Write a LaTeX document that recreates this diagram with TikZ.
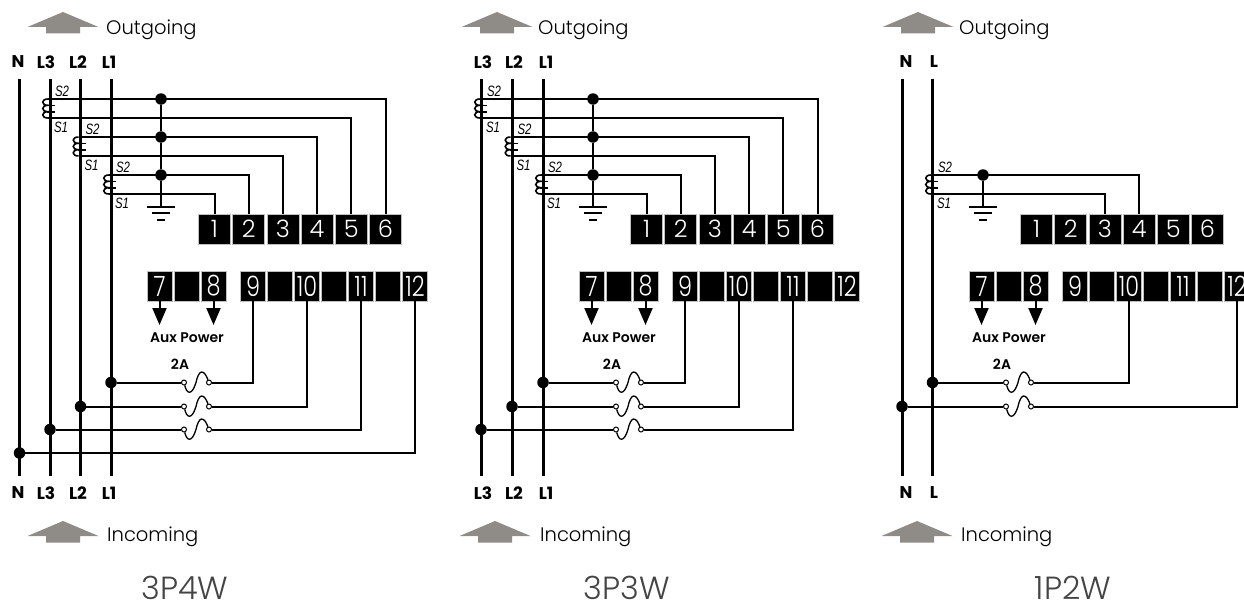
\documentclass[tikz,border=0pt]{standalone}
\usepackage{fontspec}
\setmainfont{Liberation Sans}
\newfontfamily\lightfont{Poppins Light}
\newfontfamily\boldfont{Poppins}[UprightFont=* Bold]
\newfontfamily\mediumfont{Poppins SemiBold}
\newfontfamily\narrowfont[FakeStretch=0.8]{Poppins Light}
\newfontfamily\secfont[FakeStretch=0.76]{Liberation Sans}
\usetikzlibrary{arrows.meta}
\definecolor{flowgray}{HTML}{8F8C88}
\definecolor{titlegray}{HTML}{444444}
\tikzstyle{terminal} = [rectangle, inner sep=0pt, fill=black, draw=black!25, line width=0.5pt, text=white, minimum height=30pt]
\tikzstyle{upper} = [terminal, minimum width=32pt, font=\lightfont\fontsize{24}{24}\selectfont]
\tikzstyle{lower} = [terminal, minimum width=25pt, font=\narrowfont\fontsize{28}{28}\selectfont]
\tikzstyle{bus} = [line width=3pt]
\tikzstyle{wire} = [line width=2pt]
\tikzstyle{dot} = [circle, fill=black, inner sep=0pt, minimum size=11.5pt]
\tikzstyle{fusepin} = [circle, fill=white, draw=black, line width=1pt, inner sep=0pt, minimum size=5pt]
\tikzstyle{linelabel} = [inner sep=0pt, font=\boldfont\fontsize{17}{17}\selectfont]
\tikzstyle{flowlabel} = [inner sep=0pt, anchor=west, font=\lightfont\fontsize{19.5}{20}\selectfont]
\tikzstyle{title} = [inner sep=0pt, text=titlegray, font=\lightfont\fontsize{32}{32}\selectfont]
\tikzstyle{sec} = [inner sep=0pt, font=\secfont\itshape\fontsize{15}{15}\selectfont]
\tikzstyle{small} = [inner sep=0pt, font=\mediumfont\fontsize{14}{14}\selectfont]
\tikzstyle{aux} = [line width=2pt,-{Triangle[width=14pt,length=17pt]}]
% gray arrow, apex at x,y
\newcommand{\flowarrow}[2]{\fill [flowgray] (#1,#2) -- (#1+35.5,#2+15) -- (#1+17,#2+15) -- (#1+17,#2+21.5) -- (#1-17,#2+21.5) -- (#1-17,#2+15) -- (#1-35.5,#2+15) -- cycle;}
% current transformer on a bus: name, x, y of upper wire
\newcommand{\ctcoil}[3]{
	\coordinate (#1top) at (#2,#3);
	\coordinate (#1bot) at (#2,#3+19);
	\draw [line width=1.6pt] (#1top) .. controls (#2-7,#3) and (#2-7,#3+6.3) .. (#2,#3+6.3) .. controls (#2-7,#3+6.3) and (#2-7,#3+12.7) .. (#2,#3+12.7) .. controls (#2-7,#3+12.7) and (#2-7,#3+19) .. (#1bot);
	\draw [line width=1.6pt] (#2-1,#3+6.3) -- (#2+7,#3+6.3) (#2-1,#3+12.7) -- (#2+7,#3+12.7);
	\node (#1s2) [sec] at (#2+14,#3-7.5) {S2};
	\node (#1s1) [sec] at (#2+13,#3+28.5) {S1};
}
% fuse: name, shift, y
\newcommand{\fuse}[3]{
	\begin{scope}[xshift=#2pt]
		\node (#1l) [fusepin] at (184,#3) {};
		\node (#1r) [fusepin] at (209,#3) {};
		\draw [line width=1.3pt] (#1l) .. controls (187,#3+12) and (192,#3+13) .. (196,#3) .. controls (199,#3-14) and (204,#3-13) .. (#1r);
	\end{scope}
}
\begin{document}
\begin{tikzpicture}[x=1pt, y=-1pt]
	\useasboundingbox (0,0) rectangle (1244,602);

	\foreach \p/\dx in {a/0,b/432,c/822}{
		\begin{scope}[xshift=\dx pt, node distance=34.2pt]
			\node (\p t1) [upper] at (214.5,229) {1};
			\node (\p t2) [upper, right of=\p t1] {2};
			\node (\p t3) [upper, right of=\p t2] {3};
			\node (\p t4) [upper, right of=\p t3] {4};
			\node (\p t5) [upper, right of=\p t4] {5};
			\node (\p t6) [upper, right of=\p t5] {6};
		\end{scope}
		\begin{scope}[xshift=\dx pt, node distance=27pt]
			\node (\p t7) [lower] at (159.5,286) {7};
			\node (\p b1) [lower, right of=\p t7] {};
			\node (\p t8) [lower, right of=\p b1] {8};
			\node (\p t9) [lower] at (253,286) {9};
			\node (\p b2) [lower, right of=\p t9] {};
			\node (\p t10) [lower, right of=\p b2] {10};
			\node (\p b3) [lower, right of=\p t10] {};
			\node (\p t11) [lower, right of=\p b3] {11};
			\node (\p b4) [lower, right of=\p t11] {};
			\node (\p t12) [lower, right of=\p b4] {12};
			\coordinate (\p a7) at (159.5,325);
			\coordinate (\p a8) at (213.5,325);
			\node (\p aux) [small] at (187,338) {Aux Power};
			\node (\p amp) [small] at (180,364) {2A};
			\coordinate (\p gnd) at (161,207);
			\draw [line width=1.7pt] (147,207) -- (175,207) (152,213) -- (170,213) (157,220) -- (165,220);
		\end{scope}
		\draw [aux] (\p t7) -- (\p a7);
		\draw [aux] (\p t8) -- (\p a8);
	}

	% 3P4W
	\foreach \t/\x in {N/18,L3/46,L2/78,L1/109}{
		\node (aup\t) [linelabel] at (\x,62) {\t};
		\node (adn\t) [linelabel] at (\x,493) {\t};
	}
	\foreach \n/\x in {n/19.5,l3/50,l2/80.5,l1/111}{
		\coordinate (a\n top) at (\x,79);
		\coordinate (a\n bot) at (\x,476);
		\draw [bus] (a\n top) -- (a\n bot);
	}
	\flowarrow{63}{12}
	\flowarrow{63}{521}
	\node (aout) [flowlabel] at (106,30) {Outgoing};
	\node (ain) [flowlabel] at (107,536.5) {Incoming};
	\node (atitle) [title] at (185,588) {3P4W};

	\ctcoil{ac3}{48}{99}
	\ctcoil{ac2}{78.5}{137}
	\ctcoil{ac1}{109}{175}
	\node (ad3) [dot] at (161,99) {};
	\node (ad2) [dot] at (161,137) {};
	\node (ad1) [dot] at (161,175) {};
	\draw [wire] (ad3) -- (ad2) -- (ad1) -- (agnd);
	\draw [wire] (ac3top) -| (at6);
	\draw [wire] (ac3bot) -| (at5);
	\draw [wire] (ac2top) -| (at4);
	\draw [wire] (ac2bot) -| (at3);
	\draw [wire] (ac1top) -| (at2);
	\draw [wire] (ac1bot) -| (at1);
	\fuse{af1}{0}{382.5}
	\fuse{af2}{0}{406.5}
	\fuse{af3}{0}{429.5}
	\node (aj1) [dot] at (111,382.5) {};
	\node (aj2) [dot] at (80.5,406.5) {};
	\node (aj3) [dot] at (50,429.5) {};
	\node (aj4) [dot] at (19.5,453) {};
	\draw [wire] (aj1) -- (af1l);
	\draw [wire] (aj2) -- (af2l);
	\draw [wire] (aj3) -- (af3l);
	\draw [wire] (af1r) -| (at9);
	\draw [wire] (af2r) -| (at10);
	\draw [wire] (af3r) -| (at11);
	\draw [wire] (aj4) -| (at12);

	% 3P3W
	\foreach \t/\x in {L3/483,L2/514,L1/546}{
		\node (bup\t) [linelabel] at (\x,62) {\t};
		\node (bdn\t) [linelabel] at (\x,493) {\t};
	}
	\foreach \n/\x in {l3/481,l2/512,l1/543}{
		\coordinate (b\n top) at (\x,79);
		\coordinate (b\n bot) at (\x,476);
		\draw [bus] (b\n top) -- (b\n bot);
	}
	\flowarrow{497}{12}
	\flowarrow{495}{521}
	\node (bout) [flowlabel] at (538,30) {Outgoing};
	\node (bin) [flowlabel] at (540,536.5) {Incoming};
	\node (btitle) [title] at (627,588) {3P3W};

	\ctcoil{bc3}{480}{99}
	\ctcoil{bc2}{510.5}{137}
	\ctcoil{bc1}{541}{175}
	\node (bd3) [dot] at (593,99) {};
	\node (bd2) [dot] at (593,137) {};
	\node (bd1) [dot] at (593,175) {};
	\draw [wire] (bd3) -- (bd2) -- (bd1) -- (bgnd);
	\draw [wire] (bc3top) -| (bt6);
	\draw [wire] (bc3bot) -| (bt5);
	\draw [wire] (bc2top) -| (bt4);
	\draw [wire] (bc2bot) -| (bt3);
	\draw [wire] (bc1top) -| (bt2);
	\draw [wire] (bc1bot) -| (bt1);
	\fuse{bf1}{432}{382.5}
	\fuse{bf2}{432}{406.5}
	\fuse{bf3}{432}{429.5}
	\node (bj1) [dot] at (543,382.5) {};
	\node (bj2) [dot] at (512,406.5) {};
	\node (bj3) [dot] at (481,429.5) {};
	\draw [wire] (bj1) -- (bf1l);
	\draw [wire] (bj2) -- (bf2l);
	\draw [wire] (bj3) -- (bf3l);
	\draw [wire] (bf1r) -| (bt9);
	\draw [wire] (bf2r) -| (bt10);
	\draw [wire] (bf3r) -| (bt11);

	% 1P2W
	\foreach \t/\x in {N/906,L/934}{
		\node (cup\t) [linelabel] at (\x,62) {\t};
		\node (cdn\t) [linelabel] at (\x,493) {\t};
	}
	\foreach \n/\x in {n/902,l/932.5}{
		\coordinate (c\n top) at (\x,79);
		\coordinate (c\n bot) at (\x,476);
		\draw [bus] (c\n top) -- (c\n bot);
	}
	\flowarrow{918}{12}
	\flowarrow{917}{521}
	\node (cout) [flowlabel] at (959,30) {Outgoing};
	\node (cin) [flowlabel] at (961,536.5) {Incoming};
	\node (ctitle) [title] at (1073,588) {1P2W};

	\ctcoil{cc1}{931}{175}
	\node (cd1) [dot] at (983,175) {};
	\draw [wire] (cd1) -- (cgnd);
	\draw [wire] (cc1top) -| (ct4);
	\draw [wire] (cc1bot) -| (ct3);
	\fuse{cf1}{822}{382.5}
	\fuse{cf2}{822}{406.5}
	\node (cj1) [dot] at (932.5,382.5) {};
	\node (cj2) [dot] at (902,406.5) {};
	\draw [wire] (cj1) -- (cf1l);
	\draw [wire] (cj2) -- (cf2l);
	\draw [wire] (cf1r) -| (ct10);
	\draw [wire] (cf2r) -| (ct12);
\end{tikzpicture}
\end{document}
